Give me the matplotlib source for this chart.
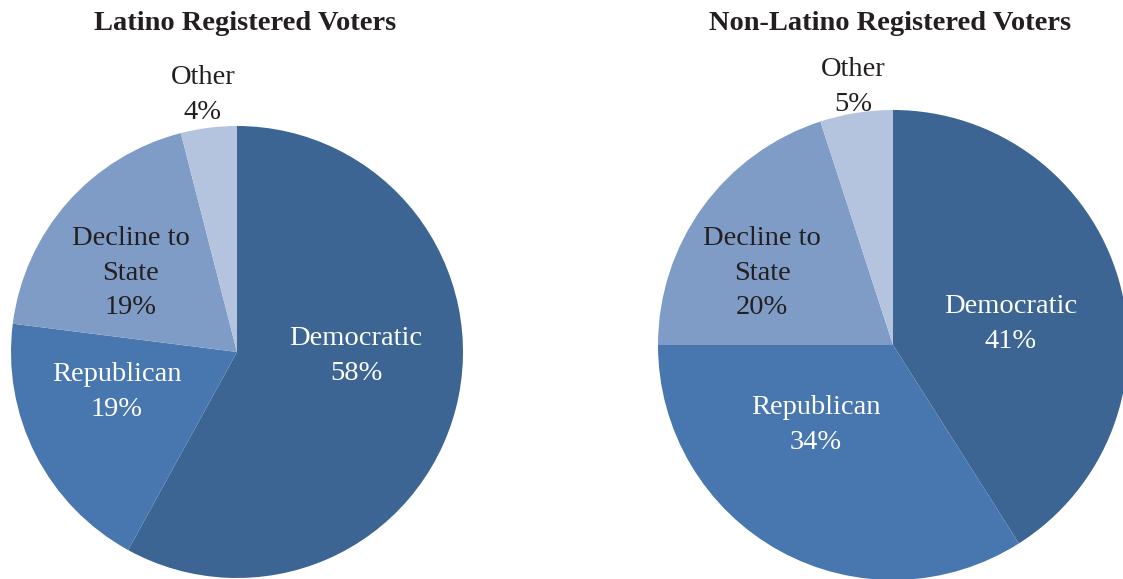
"""Party registration pies: Latino vs non-Latino registered voters."""

import matplotlib
matplotlib.use("Agg")
import matplotlib.pyplot as plt

# ---------- data -----------------------------------------------------------
parties = ["Democratic", "Republican", "Decline to\nState", "Other"]
latino_share = [58, 19, 19, 4]
nonlatino_share = [41, 34, 20, 5]
titles = ["Latino Registered Voters", "Non-Latino Registered Voters"]

# ---------- style ----------------------------------------------------------
colors = ["#3d6594", "#4876ae", "#7f9cc7", "#b4c4de"]
text_colors = ["white", "white", "#231f20", "#231f20"]
W, H = 1123, 579

# pie placement in pixel space (center x, center y from top, radius)
pies = [(237, 352, 226), (893, 345, 235)]
title_pos = [(245, 23), (890, 23)]
# label anchors (pixels, y from top) per wedge, same order as parties
label_pos = [
    [(356, 356), (117, 392), (131, 273), (203, 95)],
    [(1011, 324), (816, 425), (762, 273), (853, 87)],
]

plt.rcParams["font.family"] = ["Liberation Serif", "DejaVu Serif"]

fig = plt.figure(figsize=(W / 100, H / 100), dpi=100)
ax = fig.add_axes([0, 0, 1, 1])

for k, shares in enumerate([latino_share, nonlatino_share]):
    cx, cy, r = pies[k]
    ax.pie(
        shares, colors=colors, startangle=90, counterclock=False,
        center=(cx, H - cy), radius=r, frame=True,
        wedgeprops=dict(linewidth=0),
    )
    for i, (name, val) in enumerate(zip(parties, shares)):
        lx, ly = label_pos[k][i]
        ax.text(
            lx, H - ly, f"{name}\n{val}%",
            ha="center", va="center", fontsize=20.5,
            color=text_colors[i], linespacing=1.5,
        )
    tx, ty = title_pos[k]
    ax.text(tx, H - ty, titles[k], ha="center", va="center",
            fontsize=20.5, fontweight="bold", color="#231f20")

ax.set_xlim(0, W)
ax.set_ylim(0, H)
ax.set_aspect("equal")
ax.axis("off")

fig.savefig("out.png", dpi=100, facecolor="white")
